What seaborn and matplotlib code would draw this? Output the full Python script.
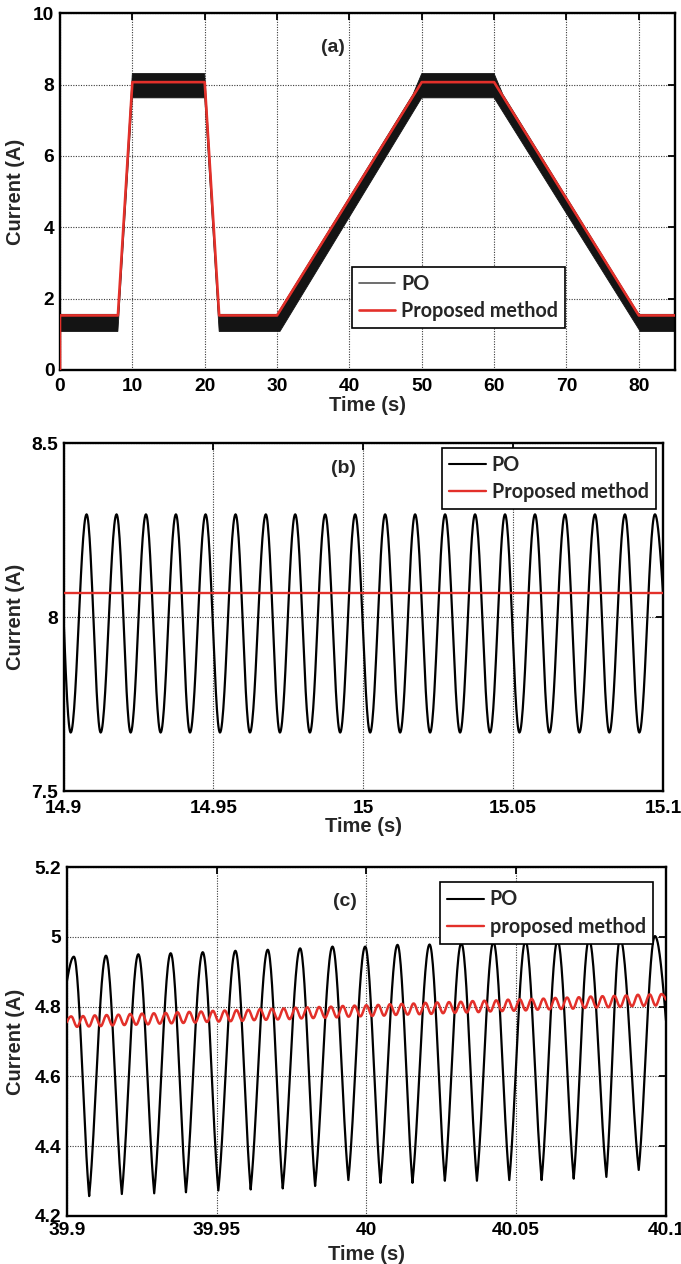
import numpy as np
import matplotlib
matplotlib.use("Agg")
import matplotlib.pyplot as plt
import seaborn as sns
from matplotlib.lines import Line2D
from matplotlib.font_manager import FontProperties

# ---------------- (a) whole test profile, 0-85 s ----------------
a_ref_t = [0, 0, 8, 10, 20, 22, 30, 50, 60, 80, 85]
a_ref_i = [0.0, 1.53, 1.53, 8.07, 8.07, 1.53, 1.53, 8.07, 8.07, 1.53, 1.53]
# envelope of the P&O current ripple (upper and lower edge of the band)
a_po_hi_t = [0, 8, 10, 20, 22, 30, 48.8, 50, 60, 61.2, 80, 85]
a_po_hi_i = [1.56, 1.56, 8.31, 8.31, 1.56, 1.56, 7.73, 8.31, 8.31, 7.73, 1.56, 1.56]
a_po_lo_t = [0, 8, 10, 20, 22, 30.4, 50, 60, 80.2, 85]
a_po_lo_i = [1.08, 1.08, 7.63, 7.63, 1.08, 1.08, 7.63, 7.63, 1.08, 1.08]
a_xticks = [0, 10, 20, 30, 40, 50, 60, 70, 80]
a_xticklabels = ["0", "10", "20", "30", "40", "50", "60", "70", "80"]
a_yticks = [0, 2, 4, 6, 8, 10]
a_yticklabels = ["0", "2", "4", "6", "8", "10"]

# ---------------- (b) zoom at the 8 A plateau ----------------
b_po_peak_t = [14.9077, 14.9177, 14.9275, 14.9375, 14.9474, 14.9574, 14.9675,
               14.9773, 14.9873, 14.9973, 15.0073, 15.0173, 15.0273, 15.0373,
               15.0473, 15.0573, 15.0673, 15.0773, 15.0873, 15.0973]
b_po_peak_i = [8.295, 8.295, 8.295, 8.295, 8.295, 8.295, 8.295, 8.295, 8.295, 8.295,
               8.295, 8.295, 8.295, 8.295, 8.295, 8.295, 8.295, 8.295, 8.295, 8.295]
b_po_trough_t = [14.9024, 14.9124, 14.9224, 14.9324, 14.9422, 14.9522, 14.9622,
                 14.9722, 14.9822, 14.9923, 15.0023, 15.0123, 15.0223, 15.0323,
                 15.0423, 15.0521, 15.0621, 15.0721, 15.0821, 15.0921]
b_po_trough_i = [7.668, 7.668, 7.668, 7.668, 7.668, 7.668, 7.668, 7.668, 7.668, 7.668,
                 7.668, 7.668, 7.668, 7.668, 7.668, 7.668, 7.668, 7.668, 7.668, 7.668]
b_po_ends_t = [14.9, 15.1]
b_po_ends_i = [8.00, 8.07]
b_ref_t = [14.9, 15.1]
b_ref_i = [8.068, 8.068]
b_xticks = [14.9, 14.95, 15.0, 15.05, 15.1]
b_xticklabels = ["14.9", "14.95", "15", "15.05", "15.1"]
b_yticks = [7.5, 8.0, 8.5]
b_yticklabels = ["7.5", "8", "8.5"]

# ---------------- (c) zoom on the rising ramp near 40 s ----------------
c_po_peak_t = [39.9024, 39.9131, 39.9239, 39.9347, 39.9454, 39.9563, 39.9671,
               39.9779, 39.9887, 39.9996, 40.0104, 40.0211, 40.0317, 40.0424,
               40.0531, 40.0638, 40.0743, 40.0847, 40.0963]
c_po_peak_i = [4.943, 4.946, 4.950, 4.953, 4.956, 4.960, 4.963, 4.967, 4.972, 4.972,
               4.977, 4.978, 4.982, 4.985, 4.988, 4.990, 4.993, 4.996, 5.002]
c_po_trough_t = [39.9075, 39.9184, 39.9292, 39.9398, 39.9506, 39.9614, 39.9721,
                 39.9829, 39.9940, 40.0047, 40.0154, 40.0262, 40.0369, 40.0477,
                 40.0585, 40.0692, 40.0801, 40.0909]
c_po_trough_i = [4.257, 4.263, 4.265, 4.268, 4.273, 4.276, 4.279, 4.286, 4.303,
                 4.295, 4.295, 4.301, 4.301, 4.303, 4.303, 4.307, 4.312, 4.332]
c_po_ends_t = [39.9, 40.1]
c_po_ends_i = [4.87, 4.76]
# proposed method: small ripple riding on a slowly rising current
c_ref_first_peak = 39.9015
c_ref_period = 0.00394
c_ref_peak_i = [4.772, 4.773, 4.775, 4.776, 4.777, 4.779, 4.780, 4.781, 4.782, 4.784,
                4.785, 4.786, 4.788, 4.789, 4.790, 4.791, 4.793, 4.794, 4.795, 4.797,
                4.798, 4.799, 4.800, 4.802, 4.803, 4.804, 4.805, 4.807, 4.808, 4.809,
                4.811, 4.812, 4.813, 4.814, 4.816, 4.817, 4.818, 4.820, 4.821, 4.822,
                4.823, 4.825, 4.826, 4.827, 4.829, 4.830, 4.831, 4.832, 4.834, 4.835,
                4.836]
c_ref_trough_i = [4.742, 4.743, 4.744, 4.746, 4.747, 4.748, 4.749, 4.751, 4.752, 4.753,
                  4.754, 4.756, 4.757, 4.758, 4.759, 4.761, 4.762, 4.763, 4.764, 4.766,
                  4.767, 4.768, 4.769, 4.771, 4.772, 4.773, 4.774, 4.776, 4.777, 4.778,
                  4.779, 4.781, 4.782, 4.783, 4.784, 4.786, 4.787, 4.788, 4.789, 4.791,
                  4.792, 4.793, 4.794, 4.796, 4.797, 4.798, 4.799, 4.801, 4.802, 4.803,
                  4.804]
c_ref_ends_t = [39.9, 40.1]
c_ref_ends_i = [4.755, 4.820]
c_xticks = [39.9, 39.95, 40.0, 40.05, 40.1]
c_xticklabels = ["39.9", "39.95", "40", "40.05", "40.1"]
c_yticks = [4.2, 4.4, 4.6, 4.8, 5.0, 5.2]
c_yticklabels = ["4.2", "4.4", "4.6", "4.8", "5", "5.2"]

RED = "#e3302a"
GRID = "#3a3a3a"
TICK_FONT = "Liberation Sans"
LEGEND_FONT = FontProperties(family="Lato", weight="bold", size=14.2)


def trace(t_pts, v_pts, w=0.0, n=28):
    """Smooth oscillation passing through the given turning points.
    w > 0 makes the crests rounder and the valleys sharper."""
    order = np.argsort(t_pts)
    t_pts = np.asarray(t_pts, float)[order]
    v_pts = np.asarray(v_pts, float)[order]
    xs, ys = [], []
    last = len(t_pts) - 2
    for k in range(len(t_pts) - 1):
        t0, t1 = t_pts[k], t_pts[k + 1]
        v0, v1 = v_pts[k], v_pts[k + 1]
        s = np.linspace(0.0, 1.0, n, endpoint=False)
        if k == 0:
            f = np.sin(0.5 * np.pi * s)
        elif k == last:
            f = 1.0 - np.cos(0.5 * np.pi * s)
        else:
            base = 0.5 * (1.0 - np.cos(np.pi * s))
            skew = np.sin(0.5 * np.pi * s) if v1 >= v0 else 1.0 - np.cos(0.5 * np.pi * s)
            f = (1.0 - w) * base + w * skew
        xs.append(t0 + (t1 - t0) * s)
        ys.append(v0 + (v1 - v0) * f)
    xs.append([t_pts[-1]])
    ys.append([v_pts[-1]])
    return np.concatenate(xs), np.concatenate(ys)


def style_axes(ax, xlim, ylim, xticks, xtl, yticks, ytl, xpad, ylab_x, xlab_y):
    ax.set_xlim(*xlim)
    ax.set_ylim(*ylim)
    ax.set_xticks(xticks)
    ax.set_xticklabels(xtl)
    ax.set_yticks(yticks)
    ax.set_yticklabels(ytl)
    ax.tick_params(axis="both", which="major", direction="in", length=5, width=1.3,
                   top=True, right=True, labelsize=13.8, colors="black")
    ax.tick_params(axis="x", pad=xpad)
    ax.tick_params(axis="y", pad=4)
    for lab in ax.get_xticklabels() + ax.get_yticklabels():
        lab.set_fontfamily(TICK_FONT)
        lab.set_fontweight("bold")
    for sp in ax.spines.values():
        sp.set_visible(True)
        sp.set_linewidth(1.7)
        sp.set_color("black")
    ax.grid(True, linestyle=(0, (1.0, 1.3)), linewidth=0.8, color=GRID)
    ax.set_axisbelow(True)
    ax.set_xlabel("Time (s)", fontsize=14.5, fontweight="bold", family=TICK_FONT)
    ax.set_ylabel("Current (A)", fontsize=14.5, fontweight="bold", family=TICK_FONT)
    ax.yaxis.set_label_coords(ylab_x, 0.5)
    ax.xaxis.set_label_coords(0.5, xlab_y)


def add_legend(ax, labels, po_color, po_lw, ref_lw, **kw):
    handles = [Line2D([], [], color=po_color, lw=po_lw),
               Line2D([], [], color=RED, lw=ref_lw)]
    leg = ax.legend(handles, labels, prop=LEGEND_FONT, frameon=True, fancybox=False,
                    framealpha=1.0, edgecolor="black", handlelength=1.85,
                    handletextpad=0.3, labelspacing=0.36, borderpad=0.36,
                    borderaxespad=0.0, **kw)
    leg.get_frame().set_linewidth(1.2)
    return leg


sns.set_style("white")
plt.rcParams["font.family"] = ["Liberation Sans", "DejaVu Sans"]

fig = plt.figure(figsize=(6.81, 12.64), dpi=100)
W, H = 681.0, 1264.0


def px_axes(left, top, right, bottom):
    return fig.add_axes([left / W, 1 - bottom / H, (right - left) / W, (bottom - top) / H])


ax_a = px_axes(60, 13.3, 675, 370)
ax_b = px_axes(63.5, 443, 663, 791)
ax_c = px_axes(66.7, 867, 666, 1216)

# ---- (a) ----
band_t = np.concatenate([a_po_hi_t, a_po_lo_t[::-1]])
band_i = np.concatenate([a_po_hi_i, a_po_lo_i[::-1]])
ax_a.fill(band_t, band_i, color="#141414", lw=0.6, ec="#141414", zorder=2)
sns.lineplot(x=a_ref_t, y=a_ref_i, ax=ax_a, color=RED, linewidth=1.9,
             estimator=None, sort=False, zorder=3)
style_axes(ax_a, (0, 85), (0, 10), a_xticks, a_xticklabels, a_yticks, a_yticklabels,
           xpad=5.5, ylab_x=-0.057, xlab_y=-0.072)
ax_a.text(0.444, 0.905, "(a)", transform=ax_a.transAxes, ha="center", va="center",
          fontsize=14, fontweight="bold", family=TICK_FONT)
add_legend(ax_a, ["PO", "Proposed method"], "#555555", 1.2, 1.9,
           loc="lower left", bbox_to_anchor=(0.474, 0.117))

# ---- (b) ----
bx, by = trace(b_po_ends_t + b_po_peak_t + b_po_trough_t,
               b_po_ends_i + b_po_peak_i + b_po_trough_i)
sns.lineplot(x=bx, y=by, ax=ax_b, color="black", linewidth=1.6,
             estimator=None, sort=False, zorder=3)
sns.lineplot(x=b_ref_t, y=b_ref_i, ax=ax_b, color=RED, linewidth=1.7,
             estimator=None, sort=False, zorder=4)
style_axes(ax_b, (14.9, 15.1), (7.5, 8.5), b_xticks, b_xticklabels, b_yticks, b_yticklabels,
           xpad=6.5, ylab_x=-0.064, xlab_y=-0.076)
ax_b.text(0.467, 0.928, "(b)", transform=ax_b.transAxes, ha="center", va="center",
          fontsize=14, fontweight="bold", family=TICK_FONT)
add_legend(ax_b, ["PO", "Proposed method"], "black", 1.5, 1.7,
           loc="upper right", bbox_to_anchor=(0.988, 0.9865))

# ---- (c) ----
cx, cy = trace(c_po_ends_t + c_po_peak_t + c_po_trough_t,
               c_po_ends_i + c_po_peak_i + c_po_trough_i, w=0.45)
n_rip = len(c_ref_peak_i)
rip_peak_t = c_ref_first_peak + c_ref_period * np.arange(n_rip)
rip_trough_t = rip_peak_t + 0.5 * c_ref_period
keep = rip_trough_t < c_ref_ends_t[1]
rx, ry = trace(list(c_ref_ends_t) + list(rip_peak_t) + list(rip_trough_t[keep]),
               list(c_ref_ends_i) + list(c_ref_peak_i) + list(np.asarray(c_ref_trough_i)[keep]),
               n=12)
sns.lineplot(x=cx, y=cy, ax=ax_c, color="black", linewidth=1.6,
             estimator=None, sort=False, zorder=3)
sns.lineplot(x=rx, y=ry, ax=ax_c, color=RED, linewidth=1.8,
             estimator=None, sort=False, zorder=4)
style_axes(ax_c, (39.9, 40.1), (4.2, 5.2), c_xticks, c_xticklabels, c_yticks, c_yticklabels,
           xpad=4.5, ylab_x=-0.069, xlab_y=-0.082)
ax_c.text(0.465, 0.90, "(c)", transform=ax_c.transAxes, ha="center", va="center",
          fontsize=14, fontweight="bold", family=TICK_FONT)
add_legend(ax_c, ["PO", "proposed method"], "black", 1.5, 1.7,
           loc="upper right", bbox_to_anchor=(0.978, 0.956))

fig.savefig("out.png", dpi=100)
